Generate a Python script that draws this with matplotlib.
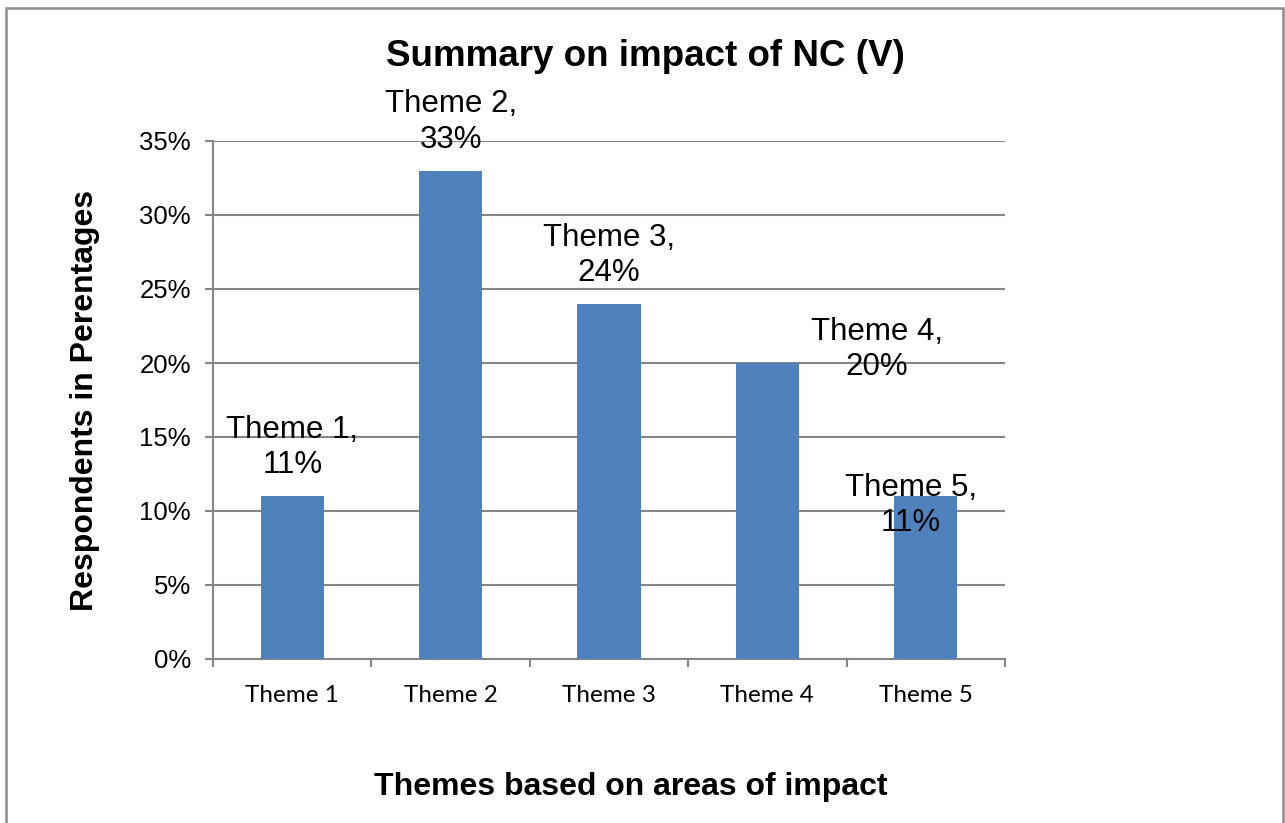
import matplotlib
matplotlib.use("Agg")
import matplotlib.pyplot as plt
from matplotlib.patches import Rectangle
from matplotlib.ticker import PercentFormatter, FixedLocator

categories = ["Theme 1", "Theme 2", "Theme 3", "Theme 4", "Theme 5"]
values = [0.11, 0.33, 0.24, 0.20, 0.11]
value_labels = ["11%", "33%", "24%", "20%", "11%"]
label_offsets = [(0, 35), (0, 35), (0, 35), (79, 10), (-11, -7)]  # points

W, H = 1285, 823
fig = plt.figure(figsize=(W / 100, H / 100), dpi=100)
fig.patch.set_facecolor("white")

# outer chart border
fig.patches.append(Rectangle((6 / W, -0.05), (1283 - 6) / W, 1 - 8 / H + 0.05,
                             transform=fig.transFigure, fill=False,
                             edgecolor="#8c8c8c", linewidth=1.8))

ax = fig.add_axes([213 / W, 1 - 659 / H, (1005 - 213) / W, (659 - 141) / H])
grid_c = "#868686"
x = list(range(len(categories)))
ax.bar(x, values, width=0.4, color="#4F81BD", zorder=3)
ax.set_xlim(-0.5, len(categories) - 0.5)
ax.set_ylim(0, 0.35)
ax.set_yticks([i * 0.05 for i in range(8)])
ax.yaxis.set_major_formatter(PercentFormatter(1.0, decimals=0))
ax.yaxis.grid(True, color=grid_c, linewidth=1.5, zorder=0)
ax.set_axisbelow(True)

for s in ["top", "right"]:
    ax.spines[s].set_visible(False)
for s in ["left", "bottom"]:
    ax.spines[s].set_color(grid_c)
    ax.spines[s].set_linewidth(1.5)

ax.set_xticks(x)
ax.set_xticklabels(categories, family="Lato", fontsize=17.5)
ax.tick_params(axis="x", which="major", length=0, pad=19)
ax.xaxis.set_minor_locator(FixedLocator([i - 0.5 for i in range(len(categories) + 1)]))
ax.tick_params(axis="x", which="minor", length=5.5, width=1.5, color=grid_c, direction="out")
ax.tick_params(axis="y", length=5.8, width=1.5, color=grid_c, pad=10, labelsize=18.5)
for t in ax.get_yticklabels():
    t.set_family("Liberation Sans")

for xi, v, cat, lab, off in zip(x, values, categories, value_labels, label_offsets):
    ax.annotate(f"{cat},\n{lab}", xy=(xi, v), xytext=off, textcoords="offset points",
                ha="center", va="center", fontsize=22.5, family="Liberation Sans",
                linespacing=1.22, zorder=5)

fig.text(645 / W, 1 - 57 / H, "Summary on impact of NC (V)", ha="center", va="center",
         fontsize=26.5, fontweight="bold", family="Liberation Sans")
fig.text(631 / W, 1 - 787 / H, "Themes based on areas of impact", ha="center", va="center",
         fontsize=23, fontweight="bold", family="Liberation Sans")
fig.text(85 / W, 1 - 400 / H, "Respondents in Perentages", ha="center", va="center",
         rotation=90, fontsize=23, fontweight="bold", family="Liberation Sans")

fig.savefig("out.png", dpi=100)
